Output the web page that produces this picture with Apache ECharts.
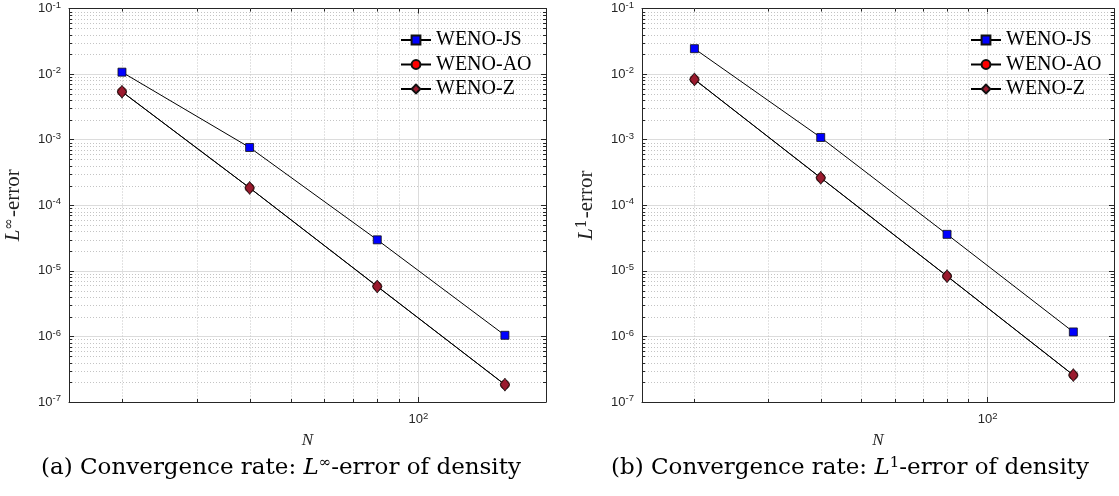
<!DOCTYPE html>
<html><head><meta charset="utf-8">
<script src="https://cdn.jsdelivr.net/npm/echarts@6/dist/echarts.min.js"></script>
<style>html,body{margin:0;padding:0;background:#fff}#c{width:1119px;height:496px}</style>
</head><body><div id="c"></div>
<script>
// ---- data ----
const N = [20, 40, 80, 160];
const linfJS = [1.07e-2, 7.6e-4, 2.97e-5, 1.04e-6];
const linfAO = [5.4e-3, 1.84e-4, 5.8e-6, 1.84e-7];
const linfZ  = [5.37e-3, 1.84e-4, 5.77e-6, 1.84e-7];
const l1JS = [2.44e-2, 1.08e-3, 3.6e-5, 1.17e-6];
const l1AO = [8.3e-3, 2.62e-4, 8.3e-6, 2.57e-7];
const l1Z  = [8.3e-3, 2.62e-4, 8.3e-6, 2.57e-7];
const seriesNames = ['WENO-JS', 'WENO-AO', 'WENO-Z'];
const xRange = [15, 200];
const yRange = [1e-7, 1e-1];
const xMinorTicks = [20, 30, 40, 50, 60, 70, 80, 90];
const yMinorMantissas = [2, 3, 4, 5, 6, 7, 8, 9];
const yMinorExponents = [-7, -6, -5, -4, -3, -2];
const yNames = ['{i|L}{s|∞}{n|-error}', '{i|L}{s|1}{n|-error}'];
const captions = ['(a) Convergence rate: {i|L}{s|∞}-error of density', '(b) Convergence rate: {i|L}{s|1}-error of density'];

const yMinorTicks = [];
yMinorExponents.forEach(e => yMinorMantissas.forEach(m => yMinorTicks.push(m * Math.pow(10, e))));

const AX = '#262626';
const SANS = 'Liberation Sans';
const SERIF = 'Liberation Serif';
const CAPSERIF = 'DejaVu Serif';

const grids = [
  {left: 69, right: 573, top: 7, bottom: 94, show: false},
  {left: 642, right: 5, top: 7, bottom: 94, show: false}
];

const labelRich = {
  b: {fontSize: 13, fontFamily: SANS, color: AX},
  s: {fontSize: 9.5, fontFamily: SANS, color: AX, padding: [0, 0, 7, 0]}
};

function xAxisFor(gi, top) {
  return {
    type: 'log', logBase: 10, gridIndex: gi, min: xRange[0], max: xRange[1],
    position: top ? 'top' : 'bottom',
    name: top ? '' : 'N', nameLocation: 'middle', nameGap: 30,
    nameTextStyle: {fontFamily: SERIF, fontStyle: 'italic', fontSize: 17, color: AX},
    axisLine: {show: true, lineStyle: {color: AX, width: 1}},
    axisTick: {show: true, inside: true, length: 5, lineStyle: {color: AX}},
    axisLabel: {
      show: !top, margin: 9,
      formatter: v => Math.abs(v - 100) < 1e-6 ? '{b|10}{s|2}' : '',
      rich: labelRich
    },
    splitLine: {show: !top, lineStyle: {color: '#dcdcdc', width: 1}},
    minorTick: {show: false}, minorSplitLine: {show: false}
  };
}
function yAxisFor(gi, right) {
  return {
    type: 'log', logBase: 10, gridIndex: gi, min: yRange[0], max: yRange[1],
    position: right ? 'right' : 'left',
    name: right ? '' : yNames[gi], nameLocation: 'middle', nameGap: 44,
    nameTextStyle: {
      color: '#222',
      rich: {
        i: {fontFamily: SERIF, fontStyle: 'italic', fontSize: 21, color: '#222'},
        s: {fontFamily: CAPSERIF, fontSize: 14, color: '#222', padding: [0, 1, 9, 0]},
        n: {fontFamily: SERIF, fontSize: 21, color: '#222'}
      }
    },
    axisLine: {show: true, lineStyle: {color: AX, width: 1}},
    axisTick: {show: true, inside: true, length: 5, lineStyle: {color: AX}},
    axisLabel: {
      show: !right, margin: 8,
      formatter: v => '{b|10}{s|' + Math.round(Math.log10(v)) + '}',
      rich: labelRich
    },
    splitLine: {show: !right, lineStyle: {color: '#dcdcdc', width: 1}}
  };
}

function minorGrid(gi, dir) {
  const vals = dir === 'v' ? xMinorTicks : yMinorTicks;
  return {
    type: 'custom', xAxisIndex: gi, yAxisIndex: gi, silent: true, z: 1,
    data: vals.map(v => dir === 'v' ? [v, 1e-4] : [100, v]),
    renderItem: (params, api) => {
      const cs = params.coordSys;
      const p = api.coord([api.value(0), api.value(1)]);
      const ch = [];
      const dash = {stroke: '#c4c4c4', lineWidth: 1, lineDash: [1, 2]};
      const tk = {stroke: AX, lineWidth: 1};
      if (dir === 'v') {
        const x = Math.round(p[0]) + 0.5;
        ch.push({type: 'line', shape: {x1: x, y1: cs.y, x2: x, y2: cs.y + cs.height}, style: dash});
        ch.push({type: 'line', shape: {x1: x, y1: cs.y + cs.height, x2: x, y2: cs.y + cs.height - 3}, style: tk});
        ch.push({type: 'line', shape: {x1: x, y1: cs.y, x2: x, y2: cs.y + 3}, style: tk});
      } else {
        const y = Math.round(p[1]) + 0.5;
        ch.push({type: 'line', shape: {x1: cs.x, y1: y, x2: cs.x + cs.width, y2: y}, style: dash});
        ch.push({type: 'line', shape: {x1: cs.x, y1: y, x2: cs.x + 3, y2: y}, style: tk});
        ch.push({type: 'line', shape: {x1: cs.x + cs.width, y1: y, x2: cs.x + cs.width - 3, y2: y}, style: tk});
      }
      return {type: 'group', children: ch};
    }
  };
}

function lineSeries(gi, name, vals, symbol, size, color) {
  return {
    type: 'line', name, xAxisIndex: gi, yAxisIndex: gi,
    data: N.map((n, i) => [n, vals[i]]),
    symbol, symbolSize: size, showSymbol: true,
    lineStyle: {color: '#000', width: 1},
    itemStyle: {color, borderColor: '#111', borderWidth: 0.8},
    emphasis: {disabled: true}, z: 3
  };
}

const series = [];
[0, 1].forEach(gi => {
  series.push(minorGrid(gi, 'v'));
  series.push(minorGrid(gi, 'h'));
});
const sets = [[linfJS, linfAO, linfZ], [l1JS, l1AO, l1Z]];
[0, 1].forEach(gi => {
  series.push(lineSeries(gi, seriesNames[0], sets[gi][0], 'rect', 8, '#0000ff'));
  series.push(lineSeries(gi, seriesNames[1], sets[gi][1], 'circle', 9, '#ff0000'));
  series.push(lineSeries(gi, seriesNames[2], sets[gi][2], 'diamond', [9, 13], '#9b1a2e'));
});

const legendBase = {
  orient: 'vertical', top: 25, itemWidth: 30, itemHeight: 11, itemGap: 4.5,
  data: seriesNames, selectedMode: false,
  textStyle: {fontFamily: SERIF, fontSize: 20, color: '#000', lineHeight: 20, padding: [0, 0, 0, 0]}
};

const captionRich = {
  i: {fontFamily: CAPSERIF, fontStyle: 'italic', fontSize: 23, fill: '#000'},
  s: {fontFamily: CAPSERIF, fontSize: 15, fill: '#000', padding: [0, 0, 10, 0]}
};
const capFont = '23px "DejaVu Serif"';

const option = {
  animation: false,
  backgroundColor: '#fff',
  grid: grids,
  xAxis: [xAxisFor(0, false), xAxisFor(1, false), xAxisFor(0, true), xAxisFor(1, true)],
  yAxis: [yAxisFor(0, false), yAxisFor(1, false), yAxisFor(0, true), yAxisFor(1, true)],
  legend: [Object.assign({left: 395}, legendBase), Object.assign({left: 965}, legendBase)],
  graphic: [
    {type: 'text', x: 281, y: 468, style: {text: captions[0], align: 'center', verticalAlign: 'middle', font: capFont, fill: '#000', rich: captionRich}},
    {type: 'text', x: 850, y: 468, style: {text: captions[1], align: 'center', verticalAlign: 'middle', font: capFont, fill: '#000', rich: captionRich}}
  ],
  series
};
const chart = echarts.init(document.getElementById('c'), null, {renderer: 'canvas'});
chart.setOption(option);
</script></body></html>
